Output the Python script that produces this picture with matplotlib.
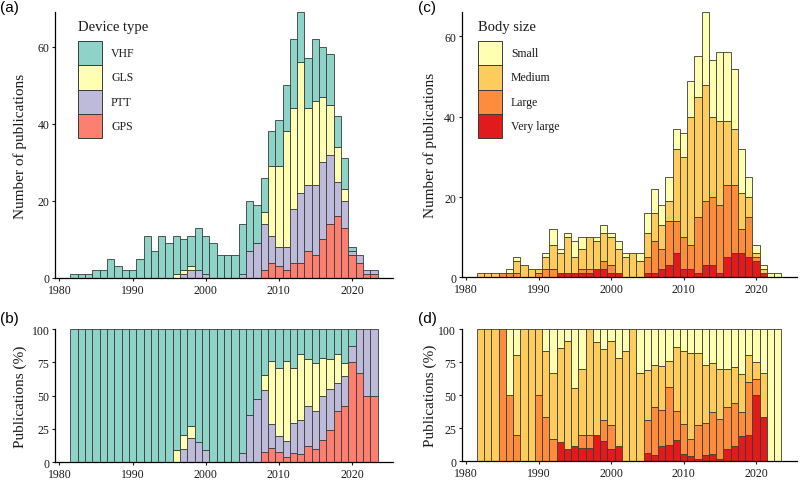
import numpy as np
import matplotlib.pyplot as plt
from matplotlib.patches import Rectangle

plt.rcParams["font.family"] = ["Liberation Serif", "DejaVu Serif"]

# ── Data: publications per year ────────────────────────────────────────────────
YEARS = list(range(1982, 2024))

# Device type (stack order bottom -> top: GPS, PTT, GLS, VHF)
VHF = [1, 1, 1, 2, 2, 5, 3, 2, 2, 5, 11, 7, 11, 9, 10, 8, 8, 11, 10, 9, 6,
       6, 6, 13, 13, 10, 9, 9, 12, 12, 18, 13, 13, 16, 13, 13, 8, 8, 1, 0, 0, 0]
GLS = [0, 0, 0, 0, 0, 0, 0, 0, 0, 0, 0, 0, 0, 0, 1, 1, 1, 0, 0, 0, 0,
       0, 0, 0, 0, 0, 3, 18, 21, 30, 26, 34, 20, 22, 17, 13, 9, 3, 0, 0, 0, 0]
PTT = [0, 0, 0, 0, 0, 0, 0, 0, 0, 0, 0, 0, 0, 0, 0, 1, 2, 2, 1, 0, 0,
       0, 0, 1, 7, 9, 12, 7, 5, 6, 14, 18, 17, 18, 20, 18, 9, 7, 1, 2, 1, 1]
GPS = [0, 0, 0, 0, 0, 0, 0, 0, 0, 0, 0, 0, 0, 0, 0, 0, 0, 0, 0, 0, 0,
       0, 0, 0, 0, 0, 2, 4, 3, 2, 4, 4, 7, 6, 10, 14, 16, 13, 6, 4, 1, 1]

# Body size (stack order bottom -> top: Very large, Large, Medium, Small)
SMALL = [0, 0, 0, 0, 1, 1, 0, 0, 0, 1, 4, 1, 1, 4, 3, 0, 1, 2, 1, 2, 1,
         0, 2, 5, 6, 5, 6, 5, 6, 9, 10, 18, 14, 17, 17, 15, 11, 5, 2, 1, 1, 1]
MEDIUM = [1, 1, 1, 0, 0, 3, 3, 2, 1, 3, 6, 5, 9, 4, 5, 8, 7, 7, 7, 6, 5,
          6, 4, 6, 7, 6, 5, 18, 20, 32, 30, 29, 20, 21, 16, 14, 9, 5, 1, 1, 0, 0]
LARGE = [0, 0, 0, 1, 1, 1, 0, 0, 1, 2, 2, 0, 0, 0, 1, 1, 0, 2, 2, 0, 0,
         0, 0, 4, 8, 5, 11, 8, 8, 6, 14, 16, 17, 17, 18, 17, 6, 10, 1, 0, 0, 0]
VLARGE = [0, 0, 0, 0, 0, 0, 0, 0, 0, 0, 0, 1, 1, 1, 1, 1, 2, 2, 1, 1, 0,
          0, 0, 1, 1, 2, 3, 6, 2, 2, 1, 3, 3, 1, 5, 6, 6, 5, 4, 1, 0, 0]

DEVICE_LABELS = ["VHF", "GLS", "PTT", "GPS"]
DEVICE_COLORS = ["#8DD3C7", "#FFFFB3", "#BEBADA", "#FB8072"]
SIZE_LABELS = ["Small", "Medium", "Large", "Very large"]
SIZE_COLORS = ["#FFFFB2", "#FECC5C", "#FD8D3C", "#E31A1C"]

EDGE = "#3a3a3a"
TXT = "#1a1a1a"
W, H = 800, 481  # figure size in px, used to place legend keys


def stacked(ax, series, colors, percent=False):
    """series / colors given bottom -> top"""
    x = np.array(YEARS)
    data = np.array(series, dtype=float)
    total = data.sum(axis=0)
    if percent:
        data = data / total * 100
    bottom = np.zeros(len(x))
    for vals, col in zip(data, colors):
        m = vals > 0
        ax.bar(x[m], vals[m], width=1.0, bottom=bottom[m], color=col,
               edgecolor=EDGE, linewidth=0.6, align="center")
        bottom += vals
    return total


def style(ax, ylabel, yticks, ylim):
    ax.set_xlim(1979.4, 2025.6)
    ax.set_ylim(*ylim)
    ax.set_xticks([1980, 1990, 2000, 2010, 2020])
    ax.set_yticks(yticks)
    for s in ["top", "right"]:
        ax.spines[s].set_visible(False)
    for s in ["left", "bottom"]:
        ax.spines[s].set_linewidth(0.9)
        ax.spines[s].set_color("black")
    ax.tick_params(direction="out", length=2.5, width=0.8, pad=1.5,
                   labelsize=8.5, colors=TXT)
    ax.set_ylabel(ylabel, fontsize=11, color=TXT)


def legend(title, labels, colors, x_px):
    # ggplot-style legend: title, then 24px keys stacked without gaps
    fig.text(x_px / W, 1 - 27 / H, title, fontsize=10.5, color=TXT,
             ha="left", va="center")
    key = 24.4
    for i, (lab, col) in enumerate(zip(labels, colors)):
        top = 41.7 + i * key
        fig.add_artist(Rectangle((x_px / W, 1 - (top + key) / H), 24 / W, key / H,
                                 transform=fig.transFigure, facecolor=col,
                                 edgecolor=EDGE, linewidth=0.7))
        fig.text((x_px + 33) / W, 1 - (top + key / 2) / H, lab, fontsize=8.5,
                 color=TXT, ha="left", va="center")


fig = plt.figure(figsize=(8, 4.81), dpi=100)
ax_a = fig.add_axes([0.06875, 0.420, 0.4225, 0.553])
ax_b = fig.add_axes([0.06875, 0.0374, 0.4225, 0.2765])
ax_c = fig.add_axes([0.5771, 0.421, 0.41875, 0.5514])
ax_d = fig.add_axes([0.5771, 0.0395, 0.41875, 0.2744])

dev_series = [GPS, PTT, GLS, VHF]
dev_cols = DEVICE_COLORS[::-1]
size_series = [VLARGE, LARGE, MEDIUM, SMALL]
size_cols = SIZE_COLORS[::-1]

tot_a = stacked(ax_a, dev_series, dev_cols)
stacked(ax_b, dev_series, dev_cols, percent=True)
tot_c = stacked(ax_c, size_series, size_cols)
stacked(ax_d, size_series, size_cols, percent=True)

style(ax_a, "Number of publications", [0, 20, 40, 60], (0, tot_a.max()))
style(ax_c, "Number of publications", [0, 20, 40, 60], (0, tot_c.max()))
style(ax_b, "Publications (%)", [0, 25, 50, 75, 100], (0, 100))
style(ax_d, "Publications (%)", [0, 25, 50, 75, 100], (0, 100))

ax_a.yaxis.set_label_coords(-0.083, 0.5)
ax_b.yaxis.set_label_coords(-0.083, 0.5)
ax_c.yaxis.set_label_coords(-0.074, 0.5)
ax_d.yaxis.set_label_coords(-0.074, 0.5)

legend("Device type", DEVICE_LABELS, DEVICE_COLORS, 78)
legend("Body size", SIZE_LABELS, SIZE_COLORS, 478)

# Panel tags
for lab, x, y in [("(a)", 0.0, 0.998), ("(b)", 0.0, 0.352),
                  ("(c)", 0.522, 0.998), ("(d)", 0.522, 0.352)]:
    fig.text(x, y, lab, fontsize=11, family=["Liberation Sans", "DejaVu Sans"],
             ha="left", va="top", color="black")

plt.savefig("out.png", dpi=100)
plt.close()
print("Saved -> out.png")
